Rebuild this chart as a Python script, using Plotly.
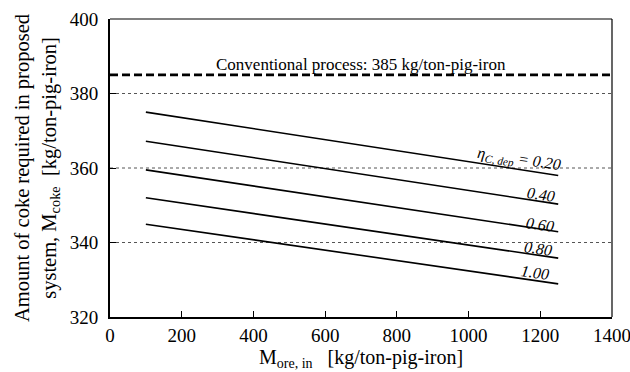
import plotly.graph_objects as go

x_ore = [100, 1250]
eta_labels = ["0.20", "0.40", "0.60", "0.80", "1.00"]
coke_start = [375.0, 367.2, 359.5, 352.0, 344.9]
coke_end = [358.0, 350.3, 342.9, 335.8, 328.9]
conventional = 385
x_ticks = [0, 200, 400, 600, 800, 1000, 1200, 1400]
y_ticks = [320, 340, 360, 380, 400]

FONT = "Liberation Serif"

fig = go.Figure()

for s, e in zip(coke_start, coke_end):
    fig.add_trace(go.Scatter(x=x_ore, y=[s, e], mode="lines",
                             line=dict(color="black", width=1.6),
                             showlegend=False, hoverinfo="skip"))

fig.add_trace(go.Scatter(x=[0, 1400], y=[conventional, conventional], mode="lines",
                         line=dict(color="black", width=2.6, dash="8px,4px"),
                         showlegend=False, hoverinfo="skip"))

# gridlines (dotted) at interior ticks
for yv in y_ticks[1:-1]:
    fig.add_shape(type="line", xref="x", yref="y", x0=0, x1=1400, y0=yv, y1=yv,
                  line=dict(color="#555555", width=1, dash="dot"), layer="below")

fig.add_annotation(x=700, y=conventional, xref="x", yref="y",
                   text="Conventional process: 385 kg/ton-pig-iron",
                   showarrow=False, yanchor="bottom", yshift=-1,
                   font=dict(family=FONT, size=17, color="black"))

# eta labels along lines (label centres)
label_pos = [(1140, 362.3), (1202, 352.9), (1199, 344.8), (1193, 338.3), (1185, 331.9)]
for i, (lab, (lx, ly)) in enumerate(zip(eta_labels, label_pos)):
    txt = "<i>η<sub>C, dep</sub> = " + lab + "</i>" if i == 0 else "<i>" + lab + "</i>"
    fig.add_annotation(x=lx, y=ly, xref="x", yref="y", text=txt, showarrow=False,
                       textangle=8.5, xanchor="center", yanchor="middle",
                       font=dict(family=FONT, size=16, color="black"))

# frame top/right thin
fig.add_shape(type="line", xref="paper", yref="paper", x0=0, x1=1, y0=1, y1=1,
              line=dict(color="black", width=1.2))
fig.add_shape(type="line", xref="paper", yref="paper", x0=1, x1=1, y0=0, y1=1,
              line=dict(color="black", width=1.2))

fig.update_xaxes(range=[0, 1400], tickvals=x_ticks, ticks="inside", ticklen=6,
                 tickcolor="black", showline=True, linecolor="black", linewidth=2,
                 showgrid=False, zeroline=False, automargin=False,
                 ticklabeloverflow="allow",
                 tickfont=dict(family=FONT, size=19, color="black"),
                 title=dict(text="M<sub>ore, in</sub>   [kg/ton-pig-iron]",
                            font=dict(family=FONT, size=20, color="black"), standoff=4))
fig.update_yaxes(range=[320, 400], tickvals=y_ticks, ticks="inside", ticklen=6,
                 tickcolor="black", showline=True, linecolor="black", linewidth=2,
                 showgrid=False, zeroline=False, automargin=False, ticklabelstandoff=6,
                 ticklabeloverflow="allow",
                 tickfont=dict(family=FONT, size=19, color="black"),
                 title=dict(text="Amount of coke required in proposed<br>system, M<sub>coke</sub>  [kg/ton-pig-iron]",
                            font=dict(family=FONT, size=20.5, color="black"), standoff=8))

fig.update_layout(width=630, height=372, margin=dict(l=110, r=18, t=19, b=55),
                  plot_bgcolor="white", paper_bgcolor="white")

fig.write_html("out.html")
